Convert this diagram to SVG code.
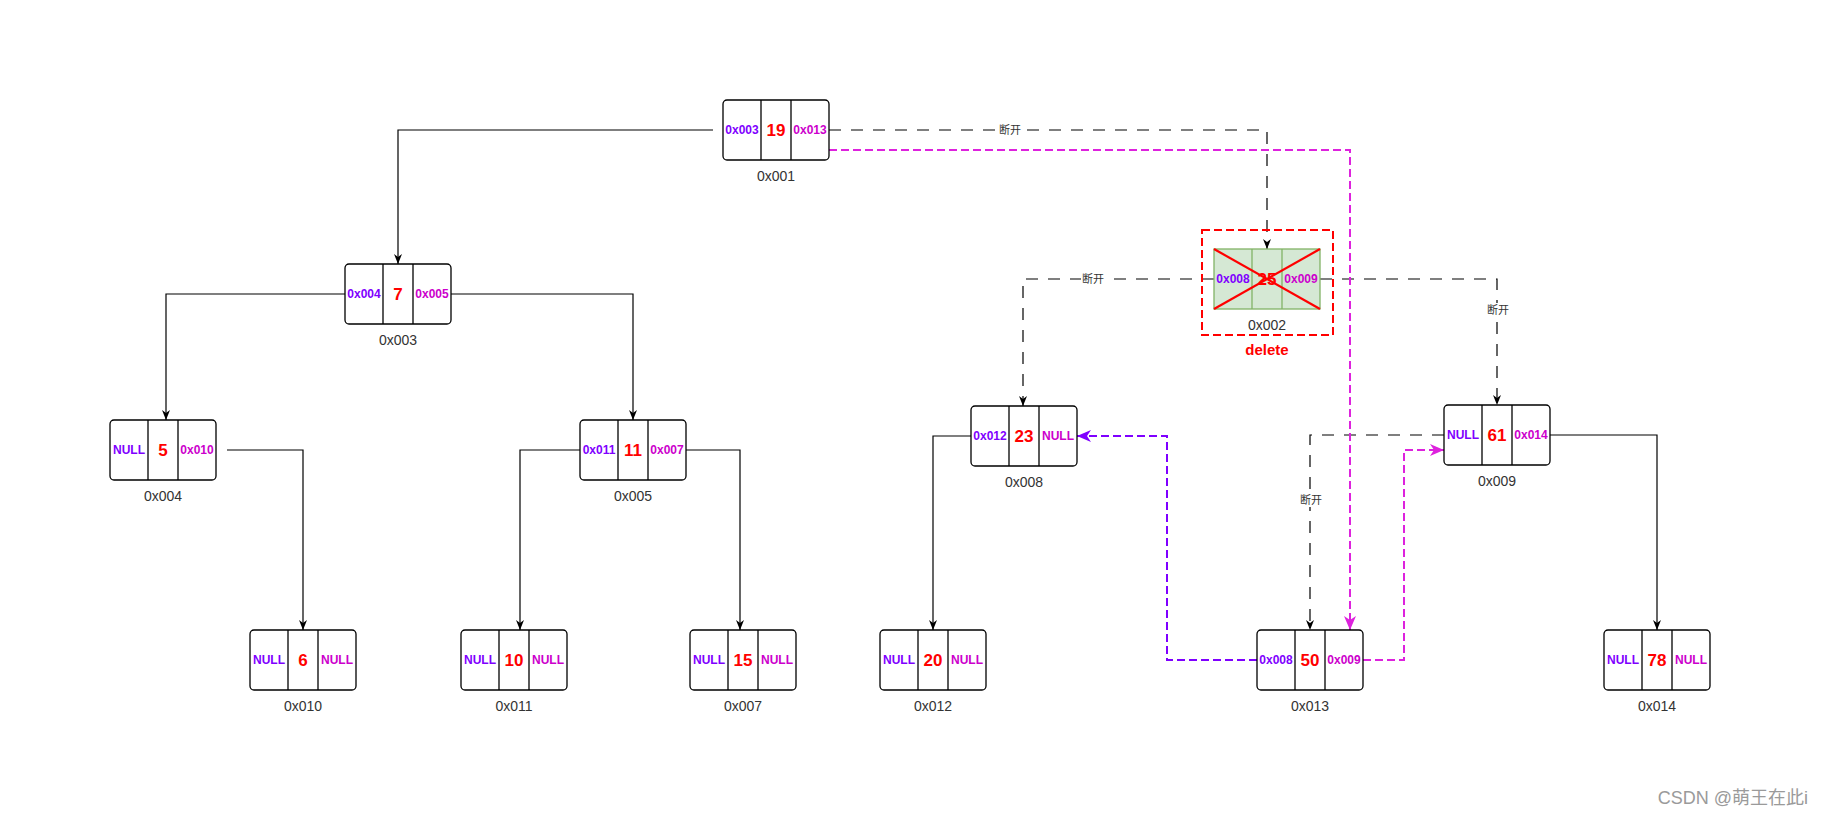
<svg xmlns="http://www.w3.org/2000/svg" width="1823" height="816" viewBox="0 0 1823 816">
<style>
.box{fill:#fff;stroke:#000;stroke-width:1.3}
.div{stroke:#000;stroke-width:1.3}
.gbox{fill:#d5e8d4;stroke:#82b366;stroke-width:1.3}
.gdiv{stroke:#82b366;stroke-width:1.3}
text{font-family:"Liberation Sans",Arial,"Noto Sans CJK SC",sans-serif;text-anchor:middle;dominant-baseline:central}
.pl{fill:#7F00FF;font-size:12px;font-weight:bold}
.pr{fill:#CC00CC;font-size:12px;font-weight:bold}
.v{fill:#FF0000;font-size:17px;font-weight:bold}
.lab{fill:#333;font-size:14px}
.cut{fill:#333;font-size:11px}
.solid{fill:none;stroke:#000;stroke-width:1.2}
.bdash{fill:none;stroke:#000;stroke-width:1.2;stroke-dasharray:12 10}
.mdash{fill:none;stroke:#DD22DD;stroke-width:2;stroke-dasharray:8 4}
.vdash{fill:none;stroke:#7F00FF;stroke-width:2;stroke-dasharray:8 4}
</style>
<defs>
<marker id="ab" viewBox="0 0 10 8" refX="10" refY="4" markerWidth="10" markerHeight="8" orient="auto" markerUnits="userSpaceOnUse"><path d="M0,0 L10,4 L0,8 L3,4 Z" fill="#000"/></marker>
<marker id="am" viewBox="0 0 14 12" refX="14" refY="6" markerWidth="14" markerHeight="12" orient="auto" markerUnits="userSpaceOnUse"><path d="M0,0 L14,6 L0,12 L4,6 Z" fill="#DD22DD"/></marker>
<marker id="av" viewBox="0 0 14 12" refX="14" refY="6" markerWidth="14" markerHeight="12" orient="auto" markerUnits="userSpaceOnUse"><path d="M0,0 L14,6 L0,12 L4,6 Z" fill="#7F00FF"/></marker>
</defs>
<rect width="1823" height="816" fill="#fff"/>

<g id="connectors">
<path class="solid" d="M713,130 H398 V264" marker-end="url(#ab)"/>
<path class="solid" d="M345,294 H166 V420" marker-end="url(#ab)"/>
<path class="solid" d="M451,294 H633 V420" marker-end="url(#ab)"/>
<path class="solid" d="M227,450 H303 V630" marker-end="url(#ab)"/>
<path class="solid" d="M580,450 H520 V630" marker-end="url(#ab)"/>
<path class="solid" d="M686,450 H740 V630" marker-end="url(#ab)"/>
<path class="solid" d="M971,436 H933 V630" marker-end="url(#ab)"/>
<path class="solid" d="M1550,435 H1657 V630" marker-end="url(#ab)"/>
<path class="bdash" d="M829,130 H1267 V249" marker-end="url(#ab)"/>
<path class="bdash" d="M1214,279 H1023 V406" marker-end="url(#ab)"/>
<path class="bdash" d="M1320,279 H1497 V405" marker-end="url(#ab)"/>
<path class="bdash" d="M1444,435 H1310 V630" marker-end="url(#ab)"/>
<path class="mdash" d="M829,150 H1350 V630" marker-end="url(#am)"/>
<path class="vdash" d="M1257,660 H1167 V436 H1077" marker-end="url(#av)"/>
<path class="mdash" d="M1363,660 H1404 V450 H1444" marker-end="url(#am)"/>
<rect x="998" y="123" width="24" height="14" fill="#fff"/><text class="cut" x="1010" y="130">断开</text>
<rect x="1081" y="272" width="24" height="14" fill="#fff"/><text class="cut" x="1093" y="279">断开</text>
<rect x="1486" y="303" width="24" height="14" fill="#fff"/><text class="cut" x="1498" y="310">断开</text>
<rect x="1299" y="493" width="24" height="14" fill="#fff"/><text class="cut" x="1311" y="500">断开</text>
</g>

<g id="n001"><rect class="box" x="723" y="100" width="106" height="60" rx="4"/><line class="div" x1="761" y1="100" x2="761" y2="160"/><line class="div" x1="791" y1="100" x2="791" y2="160"/><text class="pl" x="742" y="130">0x003</text><text class="v" x="776" y="130">19</text><text class="pr" x="810" y="130">0x013</text><text class="lab" x="776" y="176">0x001</text></g>

<g id="n003"><rect class="box" x="345" y="264" width="106" height="60" rx="4"/><line class="div" x1="383" y1="264" x2="383" y2="324"/><line class="div" x1="413" y1="264" x2="413" y2="324"/><text class="pl" x="364" y="294">0x004</text><text class="v" x="398" y="294">7</text><text class="pr" x="432" y="294">0x005</text><text class="lab" x="398" y="340">0x003</text></g>

<g id="n004"><rect class="box" x="110" y="420" width="106" height="60" rx="4"/><line class="div" x1="148" y1="420" x2="148" y2="480"/><line class="div" x1="178" y1="420" x2="178" y2="480"/><text class="pl" x="129" y="450">NULL</text><text class="v" x="163" y="450">5</text><text class="pr" x="197" y="450">0x010</text><text class="lab" x="163" y="496">0x004</text></g>

<g id="n005"><rect class="box" x="580" y="420" width="106" height="60" rx="4"/><line class="div" x1="618" y1="420" x2="618" y2="480"/><line class="div" x1="648" y1="420" x2="648" y2="480"/><text class="pl" x="599" y="450">0x011</text><text class="v" x="633" y="450">11</text><text class="pr" x="667" y="450">0x007</text><text class="lab" x="633" y="496">0x005</text></g>

<g id="n002">
<rect x="1202" y="230" width="131" height="105" fill="none" stroke="#FF0000" stroke-width="2" stroke-dasharray="8 4"/>
<rect class="gbox" x="1214" y="249" width="106" height="60"/><line class="gdiv" x1="1252" y1="249" x2="1252" y2="309"/><line class="gdiv" x1="1282" y1="249" x2="1282" y2="309"/>
<text class="pl" x="1233" y="279">0x008</text><text class="v" x="1267" y="279">25</text><text class="pr" x="1301" y="279">0x009</text>
<line x1="1214" y1="249" x2="1320" y2="309" stroke="#FF0000" stroke-width="2.2"/><line x1="1320" y1="249" x2="1214" y2="309" stroke="#FF0000" stroke-width="2.2"/>
<text class="lab" x="1267" y="325">0x002</text>
<text x="1267" y="349" fill="#FF0000" font-size="15" font-weight="bold">delete</text>
</g>

<g id="n008"><rect class="box" x="971" y="406" width="106" height="60" rx="4"/><line class="div" x1="1009" y1="406" x2="1009" y2="466"/><line class="div" x1="1039" y1="406" x2="1039" y2="466"/><text class="pl" x="990" y="436">0x012</text><text class="v" x="1024" y="436">23</text><text class="pr" x="1058" y="436">NULL</text><text class="lab" x="1024" y="482">0x008</text></g>

<g id="n009"><rect class="box" x="1444" y="405" width="106" height="60" rx="4"/><line class="div" x1="1482" y1="405" x2="1482" y2="465"/><line class="div" x1="1512" y1="405" x2="1512" y2="465"/><text class="pl" x="1463" y="435">NULL</text><text class="v" x="1497" y="435">61</text><text class="pr" x="1531" y="435">0x014</text><text class="lab" x="1497" y="481">0x009</text></g>

<g id="n010"><rect class="box" x="250" y="630" width="106" height="60" rx="4"/><line class="div" x1="288" y1="630" x2="288" y2="690"/><line class="div" x1="318" y1="630" x2="318" y2="690"/><text class="pl" x="269" y="660">NULL</text><text class="v" x="303" y="660">6</text><text class="pr" x="337" y="660">NULL</text><text class="lab" x="303" y="706">0x010</text></g>

<g id="n011"><rect class="box" x="461" y="630" width="106" height="60" rx="4"/><line class="div" x1="499" y1="630" x2="499" y2="690"/><line class="div" x1="529" y1="630" x2="529" y2="690"/><text class="pl" x="480" y="660">NULL</text><text class="v" x="514" y="660">10</text><text class="pr" x="548" y="660">NULL</text><text class="lab" x="514" y="706">0x011</text></g>

<g id="n007"><rect class="box" x="690" y="630" width="106" height="60" rx="4"/><line class="div" x1="728" y1="630" x2="728" y2="690"/><line class="div" x1="758" y1="630" x2="758" y2="690"/><text class="pl" x="709" y="660">NULL</text><text class="v" x="743" y="660">15</text><text class="pr" x="777" y="660">NULL</text><text class="lab" x="743" y="706">0x007</text></g>

<g id="n012"><rect class="box" x="880" y="630" width="106" height="60" rx="4"/><line class="div" x1="918" y1="630" x2="918" y2="690"/><line class="div" x1="948" y1="630" x2="948" y2="690"/><text class="pl" x="899" y="660">NULL</text><text class="v" x="933" y="660">20</text><text class="pr" x="967" y="660">NULL</text><text class="lab" x="933" y="706">0x012</text></g>

<g id="n013"><rect class="box" x="1257" y="630" width="106" height="60" rx="4"/><line class="div" x1="1295" y1="630" x2="1295" y2="690"/><line class="div" x1="1325" y1="630" x2="1325" y2="690"/><text class="pl" x="1276" y="660">0x008</text><text class="v" x="1310" y="660">50</text><text class="pr" x="1344" y="660">0x009</text><text class="lab" x="1310" y="706">0x013</text></g>

<g id="n014"><rect class="box" x="1604" y="630" width="106" height="60" rx="4"/><line class="div" x1="1642" y1="630" x2="1642" y2="690"/><line class="div" x1="1672" y1="630" x2="1672" y2="690"/><text class="pl" x="1623" y="660">NULL</text><text class="v" x="1657" y="660">78</text><text class="pr" x="1691" y="660">NULL</text><text class="lab" x="1657" y="706">0x014</text></g>

<text x="1808" y="798" style="text-anchor:end" fill="#9a9a9a" font-size="18">CSDN @萌王在此i</text>
</svg>
